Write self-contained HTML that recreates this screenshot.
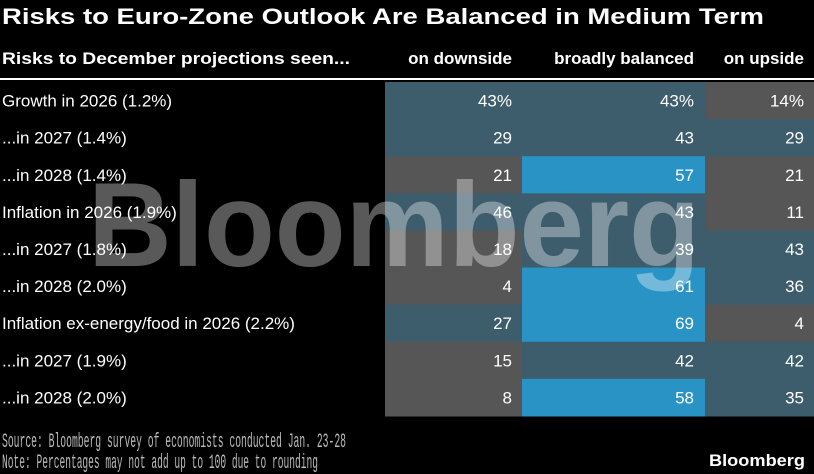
<!DOCTYPE html>
<html><head><meta charset="utf-8"><style>
html,body{margin:0;padding:0;background:#000;}
svg{display:block;font-family:"Liberation Sans",Arial,sans-serif;}
</style></head><body>
<svg id="chart" width="814" height="474" viewBox="0 0 814 474">
<rect width="814" height="474" fill="#000"/>
<text x="2" y="24" font-size="22" font-weight="bold" fill="#fff" textLength="762" lengthAdjust="spacingAndGlyphs">Risks to Euro-Zone Outlook Are Balanced in Medium Term</text>
<text x="2" y="64" font-size="17" font-weight="bold" fill="#fff" textLength="348" lengthAdjust="spacingAndGlyphs">Risks to December projections seen...</text>
<text x="512" y="64" font-size="17" font-weight="bold" fill="#fff" text-anchor="end">on downside</text>
<text x="694" y="64" font-size="17" font-weight="bold" fill="#fff" text-anchor="end">broadly balanced</text>
<text x="804" y="64" font-size="17" font-weight="bold" fill="#fff" text-anchor="end">on upside</text>
<rect x="0" y="78" width="814" height="2" fill="#fff"/>
<g id="cells"></g>
<g id="labels"></g>
<text x="88" y="266" font-size="120" font-weight="bold" fill="#fff" fill-opacity="0.35" textLength="612" lengthAdjust="spacingAndGlyphs">Bloomberg</text>
<text x="2" y="447" font-size="20" fill="#bbb" font-family="Liberation Mono, monospace" textLength="344" lengthAdjust="spacingAndGlyphs">Source: Bloomberg survey of economists conducted Jan. 23-28</text>
<text x="2" y="468" font-size="20" fill="#bbb" font-family="Liberation Mono, monospace" textLength="316" lengthAdjust="spacingAndGlyphs">Note: Percentages may not add up to 100 due to rounding</text>
<text x="805" y="466" font-size="17" font-weight="bold" fill="#fff" text-anchor="end" textLength="96" lengthAdjust="spacingAndGlyphs">Bloomberg</text>
</svg>
<script>
const rowLabels = ["Growth in 2026 (1.2%)","...in 2027 (1.4%)","...in 2028 (1.4%)","Inflation in 2026 (1.9%)","...in 2027 (1.8%)","...in 2028 (2.0%)","Inflation ex-energy/food in 2026 (2.2%)","...in 2027 (1.9%)","...in 2028 (2.0%)"];
const downside = [43,29,21,46,18,4,27,15,8];
const balanced = [43,43,57,43,39,61,69,42,58];
const upside = [14,29,21,11,43,36,4,42,35];
const series = [downside, balanced, upside];
const seriesNames = ["downside","balanced","upside"];
const NS = "http://www.w3.org/2000/svg";
const colX = [385,522,705,814];
const textRight = [512,694,804];
const top0 = 82, rowH = (416-82)/rowLabels.length;
function rowY(i){ return top0 + i*rowH; }
function colorFor(v){ return v>=50 ? "#2a93c6" : (v>=25 ? "#3d5d6d" : "#565656"); }
const cells = document.getElementById("cells"), labels = document.getElementById("labels");
rowLabels.forEach((lab,i)=>{
  const t = document.createElementNS(NS,"text");
  t.setAttribute("x",2); t.setAttribute("y",rowY(i)+rowH/2+6);
  t.setAttribute("font-size","17"); t.setAttribute("fill","#fff");
  t.textContent = lab;
  
  
  labels.appendChild(t);
  series.forEach((s,c)=>{
    const r = document.createElementNS(NS,"rect");
    r.setAttribute("x",colX[c]); r.setAttribute("y",rowY(i));
    r.setAttribute("width",colX[c+1]-colX[c]); r.setAttribute("height",rowH+0.5);
    r.setAttribute("fill",colorFor(s[i]));
    
    
    cells.appendChild(r);
    const v = document.createElementNS(NS,"text");
    v.setAttribute("x",textRight[c]); v.setAttribute("y",rowY(i)+rowH/2+6);
    v.setAttribute("font-size","17"); v.setAttribute("fill","#fff"); v.setAttribute("text-anchor","end");
    v.textContent = s[i] + (i===0 ? "%" : "");
    
    
    cells.appendChild(v);
  });
});
</script>
</body></html>
